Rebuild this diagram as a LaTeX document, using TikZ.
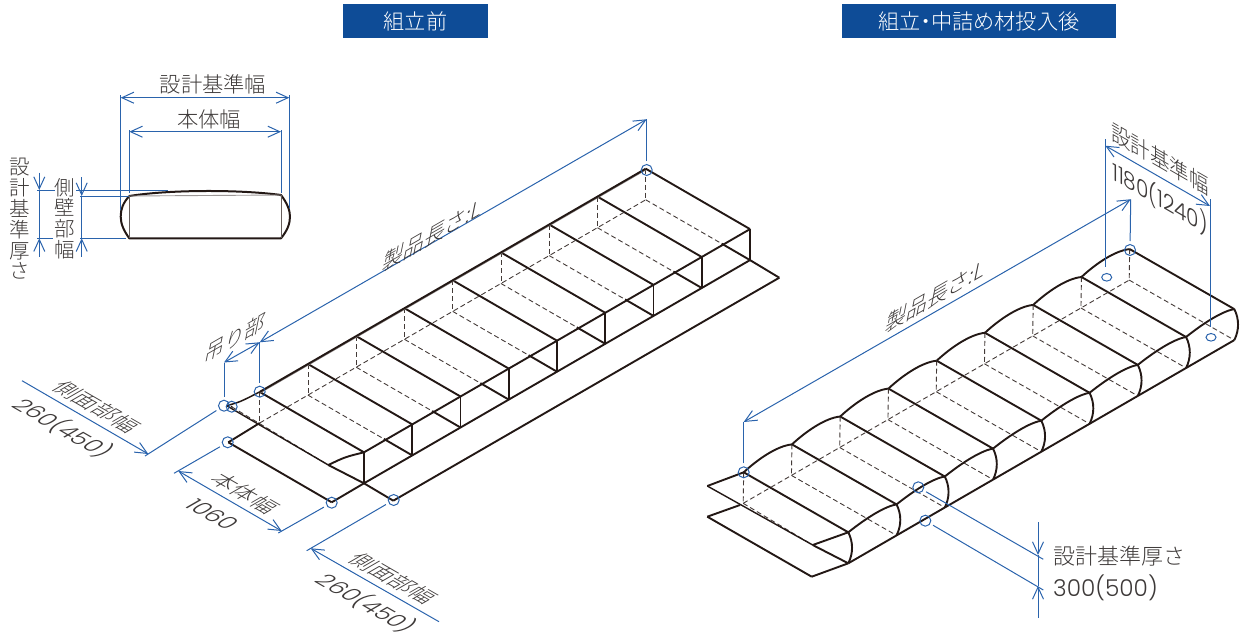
\documentclass[tikz,border=0pt]{standalone}
\usepackage{fontspec}
\setmainfont{Noto Sans CJK JP}
\newfontfamily\jpfont{Noto Sans CJK JP}[UprightFont=* Light]
\newfontfamily\numfont{Poppins}[UprightFont=* Light]
\usetikzlibrary{arrows.meta}
\definecolor{headblue}{HTML}{0E4C97}
\definecolor{dimblue}{HTML}{2A63AC}
\definecolor{inkgray}{HTML}{3E3A39}
\definecolor{inkblack}{HTML}{231815}

\begin{document}
\begin{tikzpicture}[
    x=1pt, y=-1pt,
    >={Straight Barb[length=12pt,width=11pt]},
    edge/.style={line width=1.9pt, inkblack, line join=round},
    thin edge/.style={line width=0.9pt, inkblack!70},
    hidden/.style={line width=0.9pt, inkblack!85, dash pattern=on 5pt off 3pt},
    dim/.style={line width=1pt, dimblue},
    ext/.style={dim, shorten <=3pt},
    ring/.style={circle, draw=dimblue, line width=1pt, minimum size=11pt, inner sep=0pt},
    head/.style={fill=headblue, text=white, inner sep=0pt, font=\fontsize{21.2}{22}\selectfont\jpfont},
    jp/.style={text=inkgray, inner sep=0pt, font=\fontsize{21.3}{22}\selectfont\jpfont},
    jpbig/.style={text=inkgray, inner sep=0pt, font=\fontsize{#1}{24}\selectfont\jpfont},
    stack/.style={text=inkgray, inner sep=0pt, align=center, font=\fontsize{20.5}{20.8}\selectfont\jpfont},
    num/.style={text=inkgray, inner sep=0pt, font=\fontsize{23.2}{24}\selectfont\numfont},
    plane/.style={transform shape, cm={.866,-.5,.866,.5,(0,0)}},
    wall/.style={transform shape, cm={.866,-.5,0,1,(0,0)}},
    rise/.style={transform shape, cm={.866,.5,.2,.98,(0,0)}}
]
\useasboundingbox (0,0) rectangle (1242,634);

% Headers
\node[head, minimum width=145pt, minimum height=34pt] (headL) at (415.5,21) {組立前};
\node[head, minimum width=274pt, minimum height=34pt] (headR) at (979,21) {組立\hspace{-5.5pt}・\hspace{-5.5pt}中詰め材投入後};

% Section
\draw[edge, line width=2pt] (129.3,196) .. controls (170,189.5) and (240,189.5) .. (281,195)
    .. controls (287,203) and (290,210) .. (290,216.7) .. controls (290,224) and (287,231) .. (281,238.3)
    -- (129.3,238.3) .. controls (124,231) and (120.7,224) .. (120.7,216.7)
    .. controls (120.7,209) and (123,203) .. (129.3,196);
\draw[thin edge] (129.3,196) -- (129.3,238.3);
\draw[thin edge] (281,195) -- (281,238.3);
\draw[thin edge, inkblack!45] (129.3,196) -- (281,195);

% Section dimensions
\coordinate (sa) at (120.7,95);
\coordinate (sb) at (120.7,210);
\coordinate (sc) at (289.3,95);
\coordinate (sd) at (289.3,208);
\coordinate (se) at (129.3,130);
\coordinate (sf) at (129.3,193);
\coordinate (sg) at (281,130);
\coordinate (sh) at (281,193);
\draw[dim] (sa) -- (sb);
\draw[dim] (sc) -- (sd);
\draw[dim] (se) -- (sf);
\draw[dim] (sg) -- (sh);
\coordinate (si) at (120.7,97.7);
\coordinate (sj) at (289.3,97.7);
\coordinate (sk) at (129.3,131.7);
\coordinate (sl) at (281,131.7);
\draw[dim, <->] (si) -- (sj);
\draw[dim, <->] (sk) -- (sl);

\coordinate (ta) at (39.3,172.7);
\coordinate (tb) at (39.3,190);
\coordinate (tc) at (39.3,238.3);
\coordinate (td) at (39.3,256.7);
\draw[dim, ->] (ta) -- (tb);
\draw[dim] (tb) -- (tc);
\draw[dim, ->] (td) -- (tc);
\coordinate (ua) at (81.7,177.3);
\coordinate (ub) at (81.7,196);
\coordinate (uc) at (81.7,238.3);
\coordinate (ud) at (81.7,256.7);
\draw[dim, ->] (ua) -- (ub);
\draw[dim] (ub) -- (uc);
\draw[dim, ->] (ud) -- (uc);
\coordinate (va) at (37,190);
\coordinate (vb) at (55,190);
\coordinate (vc) at (76,190);
\coordinate (vd) at (168,190);
\draw[dim] (va) -- (vb);
\draw[dim] (vc) -- (vd);
\coordinate (ve) at (37,238.3);
\coordinate (vf) at (53,238.3);
\coordinate (vg) at (80,238.3);
\coordinate (vh) at (126,238.3);
\draw[dim] (ve) -- (vf);
\draw[dim] (vg) -- (vh);
\coordinate (vi) at (80,196);
\coordinate (vj) at (129,196);
\draw[dim] (vi) -- (vj);

\node[jp] (secWide) at (213,84) {設計基準幅};
\node[jp] (secBody) at (209,119.5) {本体幅};
\node[stack] (secThick) at (20,219) {設\\計\\基\\準\\厚\\さ};
\node[stack] (secSide) at (65,218.5) {側\\壁\\部\\幅};

% Flat model
\foreach \i in {0,...,8} {
    \coordinate (LT\i) at (259.7+\i*48.25,391.9-\i*27.9);
    \coordinate (LF\i) at (364+\i*48.25,452.3-\i*27.9);
    \coordinate (LD\i) at (259.7+\i*48.25,423-\i*27.9);
    \coordinate (LB\i) at (364+\i*48.25,483.3-\i*27.9);
    \coordinate (LX\i) at (335.6+\i*48.25,466.8-\i*27.9);
    \draw[edge] (LT\i) -- (LF\i);
    \draw[hidden] (LT\i) -- (LD\i);
    \draw[edge] (LF\i) -- (LB\i);
}
\foreach \i in {1,...,8} {
    \draw[hidden] (LD\i) -- (LX\i);
    \draw[edge] (LX\i) -- (LB\i);
}
\coordinate (La) at (226.7,405.7);
\coordinate (Lb) at (228.3,442.3);
\coordinate (Lc) at (331.7,502.3);
\coordinate (Ld) at (328.3,465);
\coordinate (Le) at (393.3,500.7);
\coordinate (Lf) at (779.3,277.7);
\coordinate (Lg) at (232,407);
\draw[edge, inkblack!55, line width=1pt] ([yshift=-1.2pt]LT0) -- ([yshift=-1.2pt]LT8);
\draw[edge] (LT0) -- (LT8);
\draw[edge] (LF0) -- (LF8);
\draw[edge] (LB0) -- (LB8);
\draw[hidden] (LD0) -- (LD8);
\draw[hidden] (Lg) -- (Ld);
\draw[edge, line width=1.5pt] (La) .. controls (240,402) .. (LT0);
\draw[edge, line width=1.4pt] (La) -- (Ld);
\draw[edge] (Ld) .. controls (345,457) .. (LF0);
\draw[edge] (Ld) -- (LB0);
\draw[edge] (Lb) -- (LD0);
\draw[edge] (Lb) -- (Lc);
\draw[edge] (Lc) -- (LB0);
\draw[edge] (LB0) -- (Le);
\draw[edge] (Le) -- (Lf);
\draw[edge] (LB8) -- (Lf);

% Flat model dimensions
\node[ring] (ra) at (224,405.7) {};
\node[ring] (rb) at (231.7,406.7) {};
\node[ring] (rc) at (259.7,391.7) {};
\node[ring] (rd) at (227.7,442.3) {};
\node[ring] (re) at (331.7,502.7) {};
\node[ring] (rf) at (393.7,500) {};
\node[ring] (rg) at (646.7,170) {};
\fill[inkblack] (rb.center) circle (1pt);

\coordinate (da) at (224,362.5);
\coordinate (db) at (259.7,342.3);
\coordinate (dc) at (646.7,119.3);
\draw[ext] (ra) -- (da);
\draw[ext] (rc) -- (db);
\draw[ext] (rg) -- (dc);
\draw[dim, <->] (da) -- (db);
\draw[dim, <->] (db) -- (dc);

\coordinate (de) at (22,380.7);
\coordinate (df) at (148.3,454);
\coordinate (dg) at (145,456);
\draw[dim, ->] (de) -- (df);
\draw[ext] (ra) -- (dg);

\coordinate (dh) at (178.3,471);
\coordinate (di) at (281.7,531);
\coordinate (dj) at (174,473.3);
\coordinate (dk) at (278.3,533);
\draw[dim, <->] (dh) -- (di);
\draw[ext] (rd) -- (dj);
\draw[ext] (re) -- (dk);

\coordinate (dl) at (439,621.7);
\coordinate (dm) at (310.7,548.3);
\coordinate (dn) at (306.7,550.7);
\draw[dim, ->] (dl) -- (dm);
\draw[ext] (rf) -- (dn);

\node[jpbig=24, rise] (lenL) at (433,235) {製品長さ:\textit{L}};
\node[jpbig=23, rise] (hang) at (235,338) {吊り部};
\node[jpbig=22.5, plane] (sideA) at (96.7,406.7) {側面部幅};
\node[num, plane] (sideAnum) at (63.3,428) {260(450)};
\node[jpbig=22.5, plane] (bodyW) at (245,493.3) {本体幅};
\node[num, plane] (bodyNum) at (212.3,514.3) {1060};
\node[jpbig=22.5, plane] (sideB) at (393.3,578.3) {側面部幅};
\node[num, plane] (sideBnum) at (366.7,603.3) {260(450)};

% Filled model
\foreach \i in {0,...,8} {
    \coordinate (RT\i) at (743.7+\i*48.25,472.3-\i*27.9);
    \coordinate (RF\i) at (848.3+\i*48.25,532.3-\i*27.9);
    \coordinate (RD\i) at (743.2+\i*48.25,503.3-\i*27.9);
    \coordinate (RB\i) at (848.3+\i*48.25,563.3-\i*27.9);
    \draw[edge] (RT\i) -- (RF\i);
    \draw[hidden] (RT\i) -- (RD\i);
    \draw[edge] (RF\i) .. controls +(5,10) and +(5,-10) .. (RB\i);
}
\foreach \i in {1,...,8} {
    \draw[hidden] (RD\i) -- (RB\i);
}
\foreach \i [remember=\i as \j (initially 0)] in {1,...,8} {
    \draw[edge] (RT\j) .. controls +(14,-13) and +(-15,1.5) .. (RT\i);
    \draw[edge] (RF\j) .. controls +(10,-8) and +(-15,2.5) .. (RF\i);
}
\coordinate (Ra) at (707.3,486);
\coordinate (Rb) at (812.7,545);
\coordinate (Rc) at (707.3,516.7);
\coordinate (Rd) at (811.7,576.7);
\coordinate (Re) at (740,505);
\draw[edge] (RB0) -- (RB8);
\draw[hidden] (RD0) -- (RD8);
\draw[hidden] (RD0) -- (Rb);
\draw[edge] (Ra) -- (RT0);
\draw[edge, line width=1.4pt] (Ra) -- (Rb);
\draw[edge] (Rb) -- (RF0);
\draw[edge] (Rb) -- (RB0);
\draw[edge] (Rc) -- (Re);
\draw[edge] (Rc) -- (Rd);
\draw[edge] (Rd) -- (RB0);

% Filled model dimensions
\node[ring] (sa1) at (743.7,472.3) {};
\node[ring] (sb1) at (918.3,487.3) {};
\node[ring] (sc1) at (925.3,520.7) {};
\node[ring] (sd1) at (1130,250) {};
\draw[dim] (1106.7,277.3) ellipse (5pt and 3.8pt);
\draw[dim] (1211,337.3) ellipse (5pt and 3.8pt);

\coordinate (ea) at (743.7,422);
\coordinate (eb) at (1130.7,199.3);
\draw[ext] (sa1) -- (ea);
\draw[ext] (sd1) -- (eb);
\draw[dim, <->] (ea) -- (eb);

\coordinate (ec) at (1105.3,139.3);
\coordinate (ed) at (1105.3,266.7);
\coordinate (ee) at (1210,199.3);
\coordinate (ef) at (1210,326.7);
\coordinate (eg) at (1105.3,145.7);
\coordinate (eh) at (1210,206);
\draw[dim] (ec) -- (ed);
\draw[dim] (ee) -- (ef);
\draw[dim, <->] (eg) -- (eh);

\coordinate (ei) at (1043.3,559.3);
\coordinate (ej) at (1043.3,590);
\draw[ext] (sb1) -- (ei);
\draw[ext] (sc1) -- (ej);
\coordinate (ek) at (1038,522.3);
\coordinate (el) at (1038,555);
\coordinate (em) at (1038,586);
\coordinate (en) at (1038,618);
\draw[dim, ->] (ek) -- (el);
\draw[dim] (el) -- (em);
\draw[dim, ->] (en) -- (em);

\node[jpbig=24, rise] (lenR) at (936,296) {製品長さ:\textit{L}};
\node[jpbig=22.5, wall] (wideR) at (1160,159) {設計基準幅};
\node[num, wall] (wideNum) at (1160,198) {1180(1240)};
\node[jpbig=22, anchor=west] (thickR) at (1053,556) {設計基準厚さ};
\node[num, anchor=west] (thickNum) at (1053,588) {300(500)};

\end{tikzpicture}
\end{document}
